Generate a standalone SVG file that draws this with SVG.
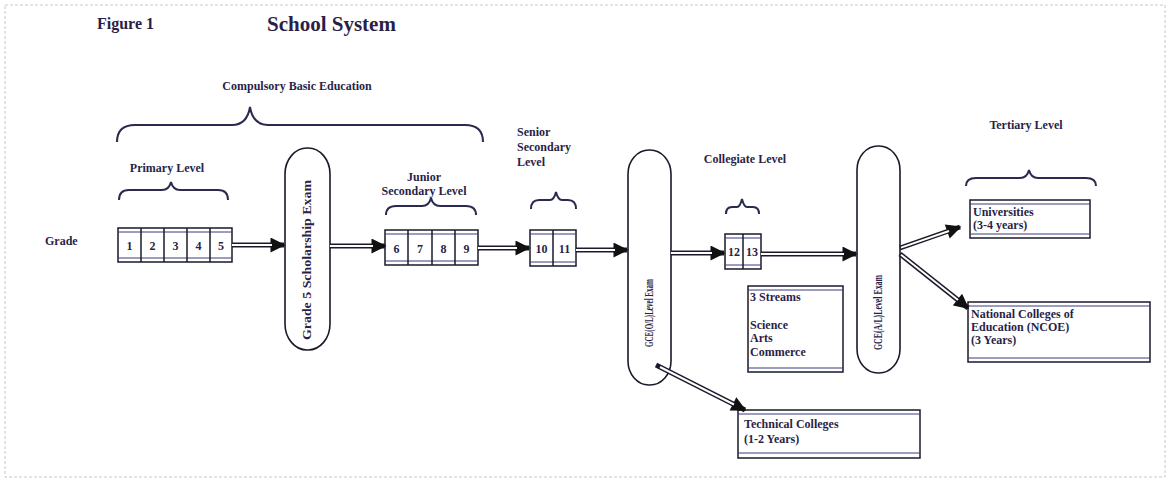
<svg xmlns="http://www.w3.org/2000/svg" width="1171" height="486" viewBox="0 0 1171 486">
<style>
.t{font-family:"Liberation Serif",serif;font-weight:bold;fill:#2a1f48;font-size:12px}
.ttl{font-family:"Liberation Serif",serif;font-weight:bold;fill:#2a1f48}
.box{fill:#fff;stroke:#1a1a2a;stroke-width:1.5}
.inner{stroke:#3a3a80;stroke-width:1;fill:none}
.brace{fill:none;stroke:#2a2a50;stroke-width:2}
.oval{fill:#fff;stroke:#1a1a2a;stroke-width:1.6}
.cw{stroke:#1a1a2a;stroke-width:5;fill:none}
.cwi{stroke:#fff;stroke-width:2;fill:none}
.cell{stroke:#1a1a2a;stroke-width:1.5}
</style>
<defs>
<marker id="ah" viewBox="0 0 10 10" refX="9" refY="5" markerWidth="3.2" markerHeight="3" orient="auto" markerUnits="strokeWidth">
<path d="M0,0 L10,5 L0,10 Z" fill="#111"/>
</marker>
</defs>
<rect x="5" y="5" width="1160" height="472" fill="#fff" stroke="#c8c8c8" stroke-width="1" stroke-dasharray="3 2"/>

<g id="title">
<text class="ttl" x="97" y="29" font-size="16">Figure 1</text>
<text class="ttl" x="267" y="31" font-size="21">School System</text>
</g>

<g id="compulsory">
<text class="t" x="297" y="90" text-anchor="middle" font-size="13">Compulsory Basic Education</text>
<path class="brace" d="M117,142 Q117,125 135,125 L232,125 Q247,125 250,107 Q253,125 268,125 L465,125 Q483,125 483,142"/>
</g>

<g id="primary">
<text class="t" x="167" y="172" text-anchor="middle">Primary Level</text>
<path class="brace" d="M119,200 Q119,190 129,190 L162,190 Q169,190 171,182 Q173,190 180,190 L218,190 Q228,190 228,200"/>
</g>

<g id="grade-label"><text class="t" x="45" y="245">Grade</text></g>

<g id="grades1-5">
<rect class="box" x="118" y="228" width="114" height="34"/>
<line class="inner" x1="118" y1="232" x2="232" y2="232"/>
<line class="inner" x1="118" y1="258" x2="232" y2="258"/>
<line class="cell" x1="141" y1="228" x2="141" y2="262"/>
<line class="cell" x1="164" y1="228" x2="164" y2="262"/>
<line class="cell" x1="187" y1="228" x2="187" y2="262"/>
<line class="cell" x1="210" y1="228" x2="210" y2="262"/>
<text class="t" x="129.5" y="250" text-anchor="middle">1</text>
<text class="t" x="152.5" y="250" text-anchor="middle">2</text>
<text class="t" x="175.5" y="250" text-anchor="middle">3</text>
<text class="t" x="198.5" y="250" text-anchor="middle">4</text>
<text class="t" x="221" y="250" text-anchor="middle">5</text>
</g>

<g id="exam1">
<rect class="oval" x="285" y="148" width="45" height="202" rx="22" ry="26"/>
<text class="t" font-size="11" transform="translate(311,340) rotate(-90)" textLength="160" lengthAdjust="spacingAndGlyphs">Grade 5 Scholarship Exam</text>
</g>

<g id="junior">
<text class="t" x="424" y="181" text-anchor="middle">Junior</text>
<text class="t" x="424" y="195" text-anchor="middle">Secondary Level</text>
<path class="brace" d="M386,215 Q386,206 396,206 L422,206 Q429,206 431,198 Q433,206 440,206 L466,206 Q476,206 476,215"/>
</g>

<g id="grades6-9">
<rect class="box" x="385" y="230" width="93" height="35"/>
<line class="inner" x1="385" y1="234" x2="478" y2="234"/>
<line class="inner" x1="385" y1="261" x2="478" y2="261"/>
<line class="cell" x1="408" y1="230" x2="408" y2="265"/>
<line class="cell" x1="432" y1="230" x2="432" y2="265"/>
<line class="cell" x1="455" y1="230" x2="455" y2="265"/>
<text class="t" x="396.5" y="253" text-anchor="middle">6</text>
<text class="t" x="420" y="253" text-anchor="middle">7</text>
<text class="t" x="443.5" y="253" text-anchor="middle">8</text>
<text class="t" x="466.5" y="253" text-anchor="middle">9</text>
</g>

<g id="senior">
<text class="t" x="517" y="136">Senior</text>
<text class="t" x="517" y="151">Secondary</text>
<text class="t" x="517" y="166">Level</text>
<path class="brace" d="M531,209 Q531,200 539,200 L550,200 Q554,200 556,192 Q558,200 562,200 L568,200 Q576,200 576,209"/>
</g>

<g id="grades10-11">
<rect class="box" x="530" y="230" width="46" height="36"/>
<line class="inner" x1="530" y1="234" x2="576" y2="234"/>
<line class="inner" x1="530" y1="262" x2="576" y2="262"/>
<line class="cell" x1="553" y1="230" x2="553" y2="266"/>
<text class="t" x="541.5" y="253" text-anchor="middle">10</text>
<text class="t" x="564.5" y="253" text-anchor="middle">11</text>
</g>

<g id="exam2">
<rect class="oval" x="628" y="150" width="43" height="235" rx="21" ry="24"/>
<text class="t" font-size="10" transform="translate(653,347) rotate(-90)" textLength="68" lengthAdjust="spacingAndGlyphs">GCE(O/L)Level Exam</text>
</g>

<g id="collegiate">
<text class="t" x="745" y="163" text-anchor="middle">Collegiate Level</text>
<path class="brace" d="M726,214 Q726,207 732,207 L737,207 Q740,207 742,199 Q744,207 747,207 L753,207 Q759,207 759,214"/>
</g>

<g id="grades12-13">
<rect class="box" x="725" y="234" width="36" height="35"/>
<line class="inner" x1="725" y1="238" x2="761" y2="238"/>
<line class="inner" x1="725" y1="265" x2="761" y2="265"/>
<line class="cell" x1="743" y1="234" x2="743" y2="269"/>
<text class="t" x="734" y="256" text-anchor="middle">12</text>
<text class="t" x="752" y="256" text-anchor="middle">13</text>
</g>

<g id="streams">
<rect class="box" x="748" y="286" width="95" height="86"/>
<line class="inner" x1="748" y1="290" x2="843" y2="290"/>
<line class="inner" x1="748" y1="368" x2="843" y2="368"/>
<text class="t" x="750" y="301">3 Streams</text>
<text class="t" x="750" y="329">Science</text>
<text class="t" x="750" y="342">Arts</text>
<text class="t" x="750" y="356">Commerce</text>
</g>

<g id="technical">
<rect class="box" x="738" y="410" width="182" height="48"/>
<line class="inner" x1="738" y1="414" x2="920" y2="414"/>
<line class="inner" x1="738" y1="453" x2="920" y2="453"/>
<text class="t" x="744" y="428">Technical Colleges</text>
<text class="t" x="744" y="443">(1-2 Years)</text>
</g>

<g id="exam3">
<rect class="oval" x="857" y="146" width="43" height="227" rx="21" ry="24"/>
<text class="t" font-size="10" transform="translate(882,350) rotate(-90)" textLength="75" lengthAdjust="spacingAndGlyphs">GCE(A/L)Level Exam</text>
</g>

<g id="tertiary">
<text class="t" x="1026" y="129" text-anchor="middle">Tertiary Level</text>
<path class="brace" d="M966,186 Q966,178 976,178 L1020,178 Q1027,178 1029,170 Q1031,178 1038,178 L1086,178 Q1096,178 1096,186"/>
</g>

<g id="universities">
<rect class="box" x="970" y="200" width="120" height="38"/>
<line class="inner" x1="970" y1="204" x2="1090" y2="204"/>
<line class="inner" x1="970" y1="234" x2="1090" y2="234"/>
<text class="t" x="973" y="216">Universities</text>
<text class="t" x="973" y="229">(3-4 years)</text>
</g>

<g id="ncoe">
<rect class="box" x="968" y="302" width="182" height="60"/>
<line class="inner" x1="968" y1="306" x2="1150" y2="306"/>
<line class="inner" x1="968" y1="358" x2="1150" y2="358"/>
<text class="t" x="971" y="318">National Colleges of</text>
<text class="t" x="971" y="331">Education (NCOE)</text>
<text class="t" x="971" y="344">(3 Years)</text>
</g>

<g id="connectors">
<g class="cw" marker-end="url(#ah)">
<line x1="232" y1="245" x2="284" y2="245"/>
<line x1="330" y1="246" x2="385" y2="246"/>
<line x1="478" y1="248" x2="529" y2="248"/>
<line x1="576" y1="250" x2="627" y2="250"/>
<line x1="671" y1="253" x2="724" y2="253"/>
<line x1="761" y1="254" x2="856" y2="254"/>
<line x1="900" y1="248" x2="960" y2="227"/>
<line x1="900" y1="254" x2="968" y2="308"/>
<line x1="656" y1="365" x2="745" y2="410"/>
</g>
<g class="cwi">
<line x1="232" y1="245" x2="272" y2="245"/>
<line x1="330" y1="246" x2="373" y2="246"/>
<line x1="478" y1="248" x2="517" y2="248"/>
<line x1="576" y1="250" x2="615" y2="250"/>
<line x1="671" y1="253" x2="712" y2="253"/>
<line x1="761" y1="254" x2="844" y2="254"/>
<line x1="901" y1="247.6" x2="949" y2="231"/>
<line x1="901" y1="254.8" x2="958" y2="300"/>
<line x1="660" y1="367" x2="734" y2="404.5"/>
</g>
</g>
</svg>
